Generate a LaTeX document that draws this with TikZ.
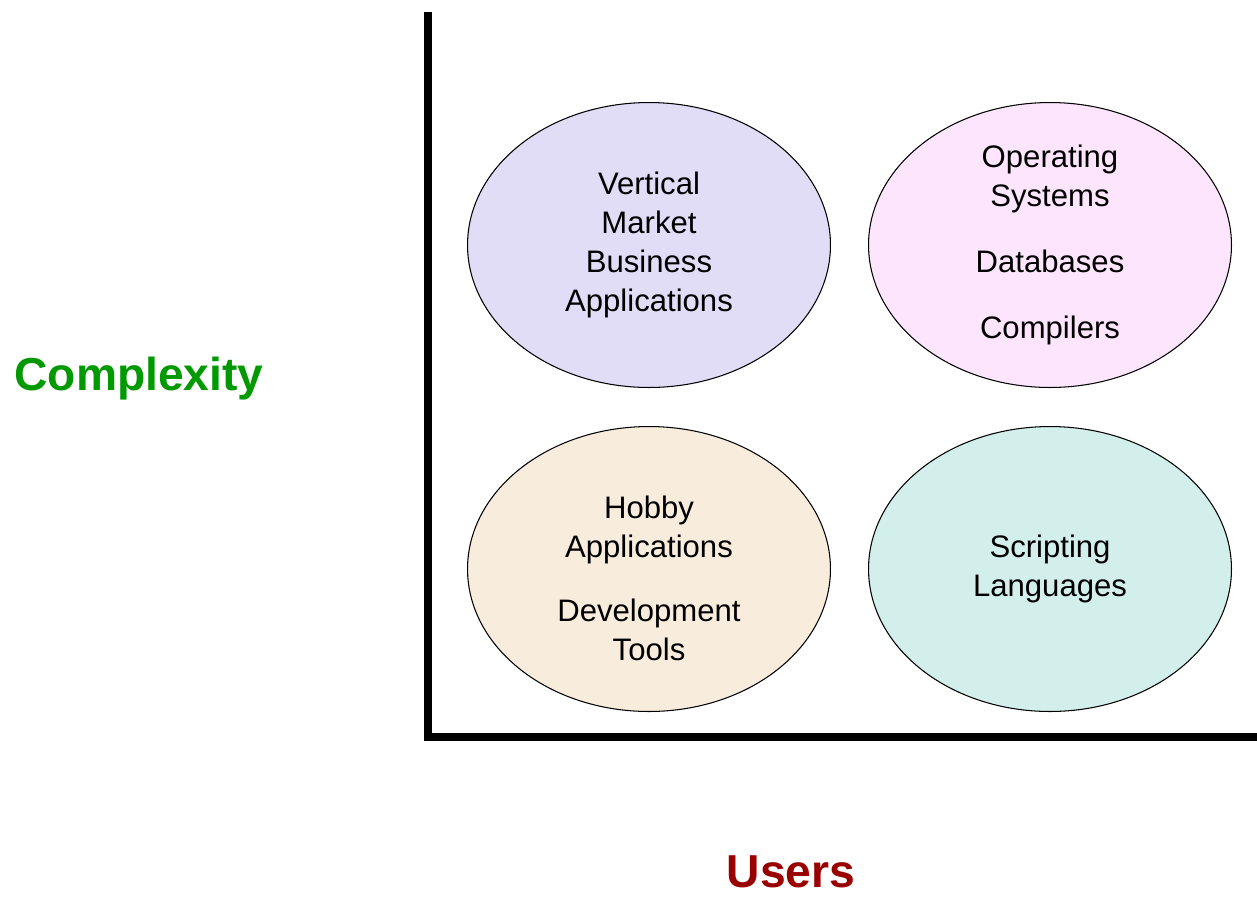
\documentclass[tikz,border=0pt]{standalone}
\usepackage{fontspec}
\setmainfont{Liberation Sans}
\usepackage{tikz}
\usetikzlibrary{shapes.geometric}

\definecolor{lavender}{RGB}{225,221,247}
\definecolor{pinkish}{RGB}{253,230,253}
\definecolor{beige}{RGB}{248,237,221}
\definecolor{paleteal}{RGB}{211,239,236}
\definecolor{cgreen}{RGB}{0,153,0}
\definecolor{cred}{RGB}{153,0,0}

\begin{document}
\begin{tikzpicture}[x=0.02cm, y=-0.02cm,
	area/.style={ellipse, draw=black, line width=0.6pt, inner sep=0pt,
		minimum width=7.26cm, minimum height=5.7cm, align=center,
		font=\fontsize{17.7}{22.2}\selectfont},
	axislabel/.style={anchor=base, font=\fontsize{26.3}{30}\selectfont\bfseries}]
			\useasboundingbox (0,0) rectangle (1257,897);
			
			% Axes
			\coordinate (top) at (428,12);
			\coordinate (origin) at (428,737);
			\coordinate (right) at (1257,737);
			\draw[line width=0.16cm, line join=miter] (top) -- (origin) -- (right);
			
			% Axis labels
			\node[axislabel, text=cgreen] (complexity) at (139,390) {Complexity};
			\node[axislabel, text=cred] (users) at (791,887) {Users};
			
			% Quadrants
			\node[area, fill=lavender] (vertical) at (649,245)
				{Vertical\\Market\\Business\\Applications};
			\node[area, fill=pinkish] (systems) at (1050,245)
				{Operating\\Systems\\[0.54cm]Databases\\[0.54cm]Compilers};
			\node[area, fill=beige] (hobby) at (649,569)
				{\rule{0pt}{0.81cm}Hobby\\Applications\\[0.5cm]Development\\Tools};
			\node[area, fill=paleteal] (scripting) at (1050,569)
				{Scripting\\Languages};
			
		\end{tikzpicture}
\end{document}
